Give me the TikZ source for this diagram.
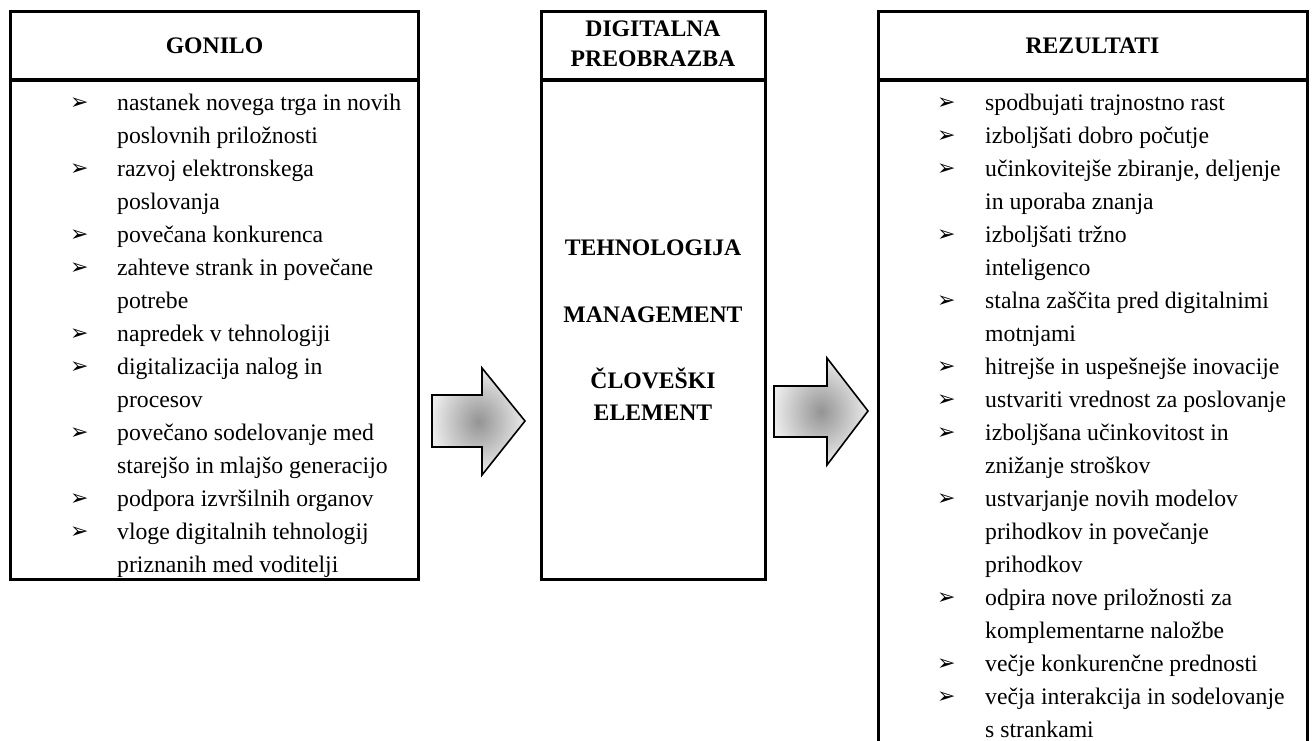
\documentclass[tikz,border=0pt]{standalone}
\usepackage{fontspec}
\setmainfont{Liberation Serif}
\newfontfamily\bulletfont{DejaVu Sans}
\usetikzlibrary{positioning}

\newcommand{\bodyfont}{\fontsize{23.7bp}{33bp}\selectfont}
\newcommand{\bul}{{\bulletfont\fontsize{22bp}{22bp}\selectfont ➢}}

\begin{document}
\begin{tikzpicture}[x=1bp,y=-1bp,
	cell/.style={draw,line width=3bp,inner sep=0pt},
	head/.style={font=\bodyfont\bfseries,align=center},
	item/.style={anchor=base west,inner sep=0pt,font=\bodyfont},
	keyword/.style={anchor=base,inner sep=0pt,font=\bodyfont\bfseries},
	bigarrow/.style={draw=black,line width=1.6bp,inner color=black!42,outer color=black!8}]
		\useasboundingbox (0,0) rectangle (1312,740);
		% boxes
		\node[cell,minimum width=407bp,minimum height=68bp] (gonilo) at (214.5,46) {};
		\node[cell,minimum width=407bp,minimum height=499bp] (gonilobody) at (214.5,329.5) {};
		\node[cell,minimum width=224bp,minimum height=68bp] (preobrazba) at (653,46) {};
		\node[cell,minimum width=224bp,minimum height=499bp] (preobrazbabody) at (653,329.5) {};
		\node[cell,minimum width=429bp,minimum height=68bp] (rezultati) at (1092.5,46) {};
		\node[cell,minimum width=429bp,minimum height=700bp] (rezultatibody) at (1092.5,430) {};
		% headings
		\node[head] (gonilotitle) at (gonilo) {GONILO};
		\node[head,font=\fontsize{23.7bp}{30bp}\selectfont\bfseries] (preobrazbatitle) at (653,44) {DIGITALNA\\PREOBRAZBA};
		\node[head] (rezultatititle) at (rezultati) {REZULTATI};
		% middle box
		\node[keyword] (tehnologija) at (653,255) {TEHNOLOGIJA};
		\node[keyword] (management) at (653,322) {MANAGEMENT};
		\node[keyword] (cloveski) at (653,388) {ČLOVEŠKI};
		\node[keyword] (element) at (653,420) {ELEMENT};
		% left list
		\foreach \n/\b/\txt in {1/1/nastanek novega trga in novih,
				2/0/poslovnih priložnosti,
				3/1/razvoj elektronskega,
				4/0/poslovanja,
				5/1/povečana konkurenca,
				6/1/zahteve strank in povečane,
				7/0/potrebe,
				8/1/napredek v tehnologiji,
				9/1/digitalizacija nalog in,
				10/0/procesov,
				11/1/povečano sodelovanje med,
				12/0/starejšo in mlajšo generacijo,
				13/1/podpora izvršilnih organov,
				14/1/vloge digitalnih tehnologij,
				15/0/priznanih med voditelji}{
			\node[item] (gonilo-\n) at (117,110+33*\n-33) {\txt};
			\ifnum\b=1
				\node[item] (gonilo-b\n) at (70,109+33*\n-33) {\bul};
			\fi
		}
		% right list
		\foreach \n/\b/\txt in {1/1/spodbujati trajnostno rast,
				2/1/izboljšati dobro počutje,
				3/1/{učinkovitejše zbiranje, deljenje},
				4/0/in uporaba znanja,
				5/1/izboljšati tržno,
				6/0/inteligenco,
				7/1/stalna zaščita pred digitalnimi,
				8/0/motnjami,
				9/1/hitrejše in uspešnejše inovacije,
				10/1/ustvariti vrednost za poslovanje,
				11/1/izboljšana učinkovitost in,
				12/0/znižanje stroškov,
				13/1/ustvarjanje novih modelov,
				14/0/prihodkov in povečanje,
				15/0/prihodkov,
				16/1/odpira nove priložnosti za,
				17/0/komplementarne naložbe,
				18/1/večje konkurenčne prednosti,
				19/1/večja interakcija in sodelovanje,
				20/0/s strankami}{
			\node[item] (rezultati-\n) at (985,110+33*\n-33) {\txt};
			\ifnum\b=1
				\node[item] (rezultati-b\n) at (937,109+33*\n-33) {\bul};
			\fi
		}
		% block arrows
		\shade[bigarrow] (432,395) -- (482,395) -- (482,368) -- (525,421)
			-- (482,475) -- (482,447) -- (432,447) -- cycle;
		\shade[bigarrow] (774,386) -- (827,386) -- (827,358) -- (868,411)
			-- (827,465) -- (827,437) -- (774,437) -- cycle;
\end{tikzpicture}
\end{document}
